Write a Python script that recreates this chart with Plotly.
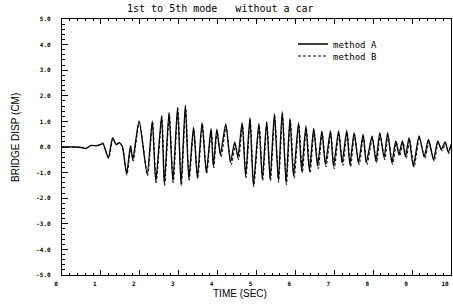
import plotly.graph_objects as go

# Method A (solid) : time (s) and bridge displacement (cm), read at turning points
t_a = [0.0, 0.3, 0.5, 0.6, 0.68, 0.75, 0.9, 1.0, 1.05, 1.19, 1.30, 1.39, 1.47, 1.55, 1.66,
       1.76, 1.82, 1.98, 2.19, 2.32, 2.41, 2.56, 2.63, 2.75, 2.85, 2.97, 3.06, 3.17, 3.26,
       3.38, 3.48, 3.60, 3.71, 3.83, 3.89, 3.98, 4.07, 4.21, 4.33, 4.44, 4.52, 4.63, 4.72,
       4.83, 4.92, 5.06, 5.15, 5.26, 5.35, 5.46, 5.56, 5.66, 5.76, 5.86, 5.95, 6.08, 6.16,
       6.27, 6.36, 6.47, 6.57, 6.68, 6.77, 6.90, 6.98, 7.11, 7.20, 7.32, 7.40, 7.51, 7.62,
       7.74, 7.82, 7.97, 8.07, 8.17, 8.28, 8.37, 8.48, 8.58, 8.66, 8.75, 8.83, 8.92, 9.03,
       9.18, 9.31, 9.42, 9.55, 9.66, 9.75, 9.85, 9.93, 10.0]
v_a = [0.0, 0.0, -0.02, -0.06, 0.0, 0.06, 0.05, 0.1, 0.15, -0.42, 0.37, 0.1, 0.17, 0.02, -1.05,
       0.05, -0.5, 1.02, -1.07, 1.02, -1.35, 1.22, -1.45, 1.35, -1.35, 1.55, -1.45, 1.63, -1.25,
       0.78, -1.2, 0.95, -1.0, 0.72, -0.75, 0.7, -0.3, 0.9, -0.6, 0.2, -0.4, 0.95, -1.15,
       1.15, -1.5, 0.92, -1.25, 1.0, -1.25, 1.3, -1.3, 1.38, -1.4, 1.12, -1.14, 0.95, -0.94,
       0.82, -0.94, 0.73, -0.75, 0.63, -0.68, 0.63, -0.75, 0.63, -0.61, 0.65, -0.68, 0.56, -0.61,
       0.5, -0.61, 0.43, -0.55, 0.56, -0.42, 0.56, -0.61, 0.24, -0.29, 0.24, -0.38, 0.37, -0.75,
       0.43, -0.38, 0.3, -0.5, 0.24, -0.1, 0.2, -0.2, 0.1]

# Method B (dashed)
t_b = [0.0, 0.3, 0.5, 0.6, 0.68, 0.75, 0.9, 1.0, 1.05, 1.20, 1.31, 1.40, 1.48, 1.56, 1.67,
       1.77, 1.83, 1.99, 2.20, 2.33, 2.42, 2.57, 2.64, 2.76, 2.86, 2.98, 3.07, 3.18, 3.27,
       3.39, 3.49, 3.61, 3.72, 3.84, 3.90, 3.99, 4.09, 4.22, 4.35, 4.46, 4.54, 4.64, 4.73,
       4.84, 4.93, 5.07, 5.16, 5.27, 5.36, 5.47, 5.57, 5.67, 5.77, 5.87, 5.97, 6.09, 6.18,
       6.28, 6.38, 6.48, 6.59, 6.69, 6.79, 6.91, 7.00, 7.12, 7.22, 7.33, 7.42, 7.52, 7.64,
       7.75, 7.84, 7.98, 8.09, 8.18, 8.30, 8.38, 8.50, 8.60, 8.68, 8.77, 8.85, 8.94, 9.05,
       9.19, 9.33, 9.44, 9.57, 9.67, 9.77, 9.86, 9.94, 10.0]
v_b = [0.0, 0.0, -0.02, -0.05, 0.0, 0.05, 0.06, 0.1, 0.13, -0.45, 0.33, 0.08, 0.15, 0.0, -1.1,
       0.02, -0.55, 0.98, -1.12, 0.98, -1.4, 1.18, -1.5, 1.3, -1.4, 1.5, -1.5, 1.58, -1.3,
       0.72, -1.25, 0.9, -1.05, 0.66, -0.82, 0.62, -0.4, 0.82, -0.7, 0.1, -0.5, 0.88, -1.2,
       1.08, -1.55, 0.85, -1.32, 0.92, -1.33, 1.22, -1.38, 1.3, -1.48, 1.05, -1.22, 0.88, -1.02,
       0.75, -1.02, 0.66, -0.85, 0.55, -0.78, 0.55, -0.85, 0.55, -0.72, 0.57, -0.78, 0.48, -0.7,
       0.42, -0.7, 0.35, -0.62, 0.48, -0.5, 0.48, -0.68, 0.18, -0.36, 0.18, -0.45, 0.3, -0.8,
       0.36, -0.45, 0.22, -0.56, 0.18, -0.16, 0.14, -0.26, 0.06]

y_ticks = [-5, -4, -3, -2, -1, 0, 1, 2, 3, 4, 5]
y_tick_text = ["-5.0", "-4.0", "-3.0", "-2.0", "-1.0", "0.0", "1.0", "2.0", "3.0", "4.0", "5.0"]
x_ticks = [0, 1, 2, 3, 4, 5, 6, 7, 8, 9, 10]
x_tick_text = ["0", "1", "2", "3", "4", "5", "6", "7", "8", "9", "10"]

L, R, T, B = 62, 451, 19, 275
W, H = 453, 306
PW, PH = R - L, B - T

fig = go.Figure()
fig.add_trace(go.Scatter(x=t_a, y=v_a, mode="lines", name="method A", legend="legend",
                         line=dict(color="black", width=1.3, shape="spline", smoothing=0.6)))
fig.add_trace(go.Scatter(x=t_b, y=v_b, mode="lines", name="method B", legend="legend2",
                         line=dict(color="black", width=1.0, dash="3px,2px", shape="spline", smoothing=0.6)))

mono = "DejaVu Sans Mono"
leg_common = dict(xanchor="left", yanchor="middle", bgcolor="rgba(0,0,0,0)",
                  font=dict(family=mono, size=9, color="black"), itemwidth=30,
                  borderwidth=0)
fig.update_layout(
    width=W, height=H,
    margin=dict(l=L, r=W - R, t=T, b=H - B, autoexpand=False),
    paper_bgcolor="white", plot_bgcolor="white",
    showlegend=True,
    legend=dict(x=(293 - L) / PW, y=(B - 44) / PH, **leg_common),
    legend2=dict(x=(293 - L) / PW, y=(B - 56) / PH, **leg_common),
    annotations=[
        dict(text="1st to 5th mode   without a car", xref="paper", yref="paper",
             x=(220 - L) / PW, y=(B - 8) / PH, showarrow=False,
             font=dict(family=mono, size=10, color="black"), xanchor="center", yanchor="middle"),
        dict(text="BRIDGE DISP (CM)", xref="paper", yref="paper",
             x=(15 - L) / PW, y=(B - 138) / PH, showarrow=False, textangle=-90,
             font=dict(family="Liberation Sans", size=10, color="black"),
             xanchor="center", yanchor="middle"),
        dict(text="TIME (SEC)", xref="paper", yref="paper",
             x=(240 - L) / PW, y=(B - 293) / PH, showarrow=False,
             font=dict(family="Liberation Sans", size=10, color="black"),
             xanchor="center", yanchor="middle"),
    ],
)
fig.update_xaxes(range=[0, 10], tickvals=x_ticks, ticktext=x_tick_text, automargin=False,
                 showgrid=False, zeroline=False, showline=True, linecolor="black", linewidth=1.2,
                 mirror="ticks", ticks="inside", ticklen=5, tickcolor="black",
                 tickfont=dict(family=mono, size=6, color="black", weight="bold"), ticklabelstandoff=3,
                 ticklabelshift=-6, ticklabeloverflow="allow",
                 minor=dict(dtick=0.2, ticks="inside", ticklen=2, tickcolor="black"))
fig.update_yaxes(range=[-5, 5], tickvals=y_ticks, ticktext=y_tick_text, automargin=False,
                 showgrid=False, zeroline=False, showline=True, linecolor="black", linewidth=1.2,
                 mirror=True, ticks="inside", ticklen=6, tickcolor="black",
                 tickfont=dict(family=mono, size=6, color="black", weight="bold"), ticklabelstandoff=9,
                 minor=dict(dtick=0.2, ticks="inside", ticklen=3, tickcolor="black"))

fig.write_html("out.html", config={"displayModeBar": False},
               post_script="document.body.style.margin='0';document.body.style.overflow='hidden';")
